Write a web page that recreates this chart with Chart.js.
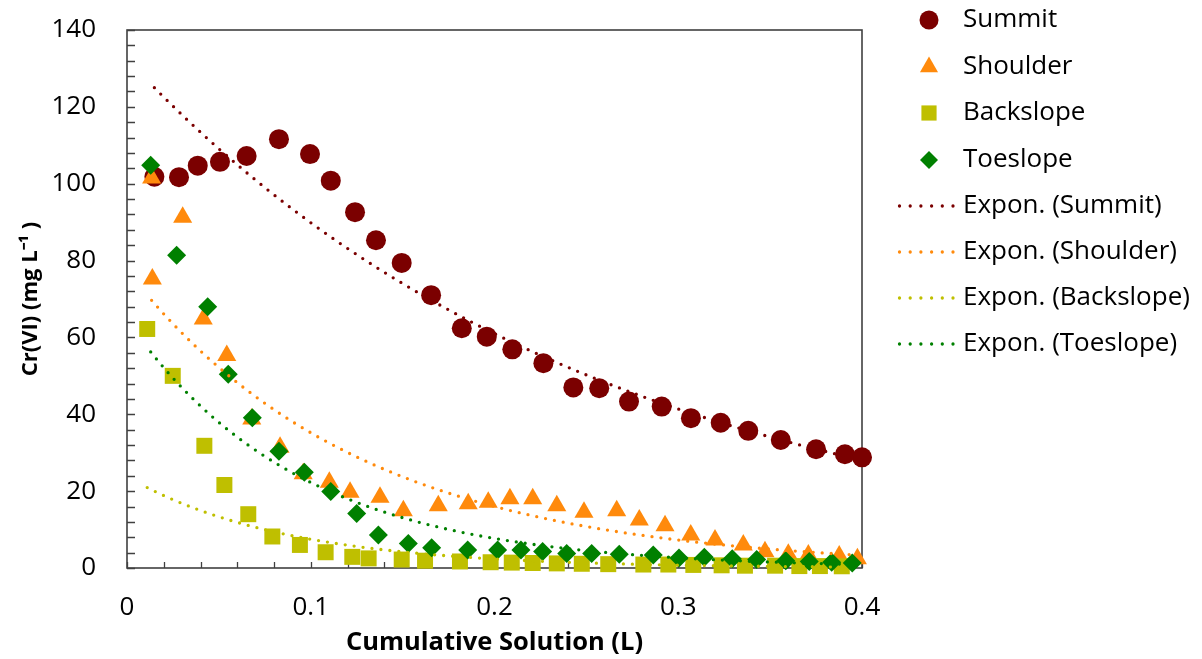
<!DOCTYPE html>
<html>
<head>
<meta charset="utf-8">
<script src="https://cdn.jsdelivr.net/npm/chart.js@4/dist/chart.umd.min.js"></script>
<style>
  html, body { margin: 0; padding: 0; background: #ffffff; }
  #wrap { width: 1202px; height: 659px; }
</style>
</head>
<body>
<div id="wrap"><canvas id="c" width="1202" height="659"></canvas></div>
<script>
// Cr(VI) concentration in leachate vs. cumulative solution volume, four landscape positions
const summitX = [0.0149,0.0283,0.0385,0.0506,0.0651,0.0827,0.0996,0.1109,0.1241,0.1355,0.1495,0.1655,0.1822,0.1958,0.2097,0.2266,0.2429,0.2570,0.2732,0.2910,0.3069,0.3231,0.3381,0.3558,0.3750,0.3907,0.4000];
const summitY = [101.8,101.7,104.7,105.7,107.2,111.6,107.7,100.8,92.6,85.3,79.4,71.0,62.4,60.2,56.9,53.3,47.0,46.8,43.3,42.0,39.0,37.8,35.7,33.3,30.9,29.6,28.8];

const shoulderX = [0.0134,0.0303,0.0138,0.0415,0.0543,0.0679,0.0833,0.0959,0.1101,0.1214,0.1377,0.1504,0.1694,0.1857,0.1966,0.2084,0.2208,0.2339,0.2487,0.2665,0.2788,0.2928,0.3068,0.3200,0.3354,0.3472,0.3599,0.3708,0.3876,0.3975];
const shoulderY = [101.5,91.3,75.2,64.8,55.3,38.8,31.4,24.5,22.3,19.7,18.4,14.9,16.2,16.7,17.1,18.0,18.0,16.2,14.5,14.9,12.5,11.0,8.6,7.3,6.0,4.2,3.6,3.4,3.1,2.4];

const backslopeX = [0.0110,0.0249,0.0421,0.0530,0.0660,0.0791,0.0941,0.1081,0.1226,0.1315,0.1495,0.1622,0.1812,0.1979,0.2094,0.2208,0.2339,0.2475,0.2619,0.2810,0.2946,0.3082,0.3236,0.3363,0.3527,0.3659,0.3771,0.3890];
const backslopeY = [62.2,50.0,31.8,21.6,14.0,8.2,6.0,4.1,2.9,2.5,2.2,1.9,1.7,1.5,1.4,1.3,1.2,1.1,1.0,0.9,0.9,0.8,0.7,0.6,0.6,0.5,0.5,0.45];

const toeslopeX = [0.0129,0.0270,0.0439,0.0551,0.0682,0.0827,0.0965,0.1109,0.1250,0.1368,0.1531,0.1658,0.1854,0.2017,0.2144,0.2262,0.2393,0.2529,0.2679,0.2864,0.3004,0.3142,0.3294,0.3427,0.3585,0.3713,0.3835,0.3947];
const toeslopeY = [104.8,81.4,68.0,50.4,39.1,30.4,24.9,19.9,14.2,8.6,6.4,5.3,4.7,4.7,4.7,4.3,3.8,3.8,3.6,3.4,2.6,2.8,2.4,2.2,1.9,1.7,1.5,1.3];

const seriesNames = ['Summit', 'Shoulder', 'Backslope', 'Toeslope'];
const seriesColors = ['#7b0000', '#ff8a0c', '#bfbf00', '#008000'];
const seriesShapes = ['circle', 'triangle', 'rect', 'rectRot'];
const seriesRadii = [10, 11, 11.3, 9.5];

const xTicks = [0, 0.1, 0.2, 0.3, 0.4];
const yTicks = [0, 20, 40, 60, 80, 100, 120, 140];
const xMinorStep = 0.02;
const yMinorStep = 4;

const FONT = '"Open Sans"';
Chart.defaults.font.family = FONT;
Chart.defaults.color = '#000000';

// Exponential least-squares fit (regression of ln y on x), as a spreadsheet trendline
function expFit(xs, ys) {
  const n = xs.length;
  let sx = 0, sl = 0, sxx = 0, sxl = 0;
  for (let i = 0; i < n; i++) {
    const l = Math.log(ys[i]);
    sx += xs[i]; sl += l; sxx += xs[i] * xs[i]; sxl += xs[i] * l;
  }
  const b = (n * sxl - sx * sl) / (n * sxx - sx * sx);
  const a = (sl - b * sx) / n;
  return { A: Math.exp(a), b: b };
}

function trendPoints(xs, ys) {
  const f = expFit(xs, ys);
  const lo = Math.min(...xs), hi = Math.max(...xs);
  const pts = [];
  const steps = 160;
  for (let i = 0; i <= steps; i++) {
    const x = lo + (hi - lo) * i / steps;
    pts.push({ x: x, y: f.A * Math.exp(f.b * x) });
  }
  return pts;
}

const pairs = (xs, ys) => xs.map((x, i) => ({ x: x, y: ys[i] }));
const allX = [summitX, shoulderX, backslopeX, toeslopeX];
const allY = [summitY, shoulderY, backslopeY, toeslopeY];

const datasets = [];
for (let s = 0; s < 4; s++) {
  datasets.push({
    label: seriesNames[s],
    data: pairs(allX[s], allY[s]),
    showLine: false,
    pointStyle: seriesShapes[s],
    pointRadius: seriesRadii[s],
    pointHoverRadius: seriesRadii[s],
    pointBorderWidth: 0,
    backgroundColor: seriesColors[s],
    borderColor: seriesColors[s],
    order: 10 - s,
    clip: false
  });
}
for (let s = 0; s < 4; s++) {
  datasets.push({
    label: 'Expon. (' + seriesNames[s] + ')',
    data: trendPoints(allX[s], allY[s]),
    showLine: true,
    pointRadius: 0,
    pointHoverRadius: 0,
    borderColor: seriesColors[s],
    borderWidth: 3.3,
    borderDash: [0, 9],
    borderCapStyle: 'round',
    tension: 0,
    fill: false,
    order: 4 - s,
    clip: false
  });
}

// Plot frame and inward minor tick marks
const frameAndTicks = {
  id: 'frameAndTicks',
  beforeDatasetsDraw(chart) {
    const { ctx, chartArea: a, scales: { x, y } } = chart;
    ctx.save();
    ctx.strokeStyle = '#404040';
    ctx.lineWidth = 1.6;
    ctx.strokeRect(a.left, a.top, a.right - a.left, a.bottom - a.top);
    ctx.lineWidth = 1.3;
    ctx.beginPath();
    for (let v = 0; v <= 140 + 1e-9; v += yMinorStep) {
      const py = Math.round(y.getPixelForValue(v)) + 0.5;
      ctx.moveTo(a.left, py);
      ctx.lineTo(a.left + 8, py);
    }
    for (let i = 0; i <= Math.round(0.4 / xMinorStep); i++) {
      const px = Math.round(x.getPixelForValue(i * xMinorStep)) + 0.5;
      ctx.moveTo(px, a.bottom);
      ctx.lineTo(px, a.bottom - 6);
    }
    ctx.stroke();
    ctx.restore();
  }
};

// Legend on the right: four marker entries, four dotted trendline entries
const legendRows = [20, 67, 113, 160, 206, 252, 298, 344];
const sideLegend = {
  id: 'sideLegend',
  afterDraw(chart) {
    const ctx = chart.ctx;
    ctx.save();
    ctx.font = '26px ' + FONT;
    ctx.textBaseline = 'middle';
    ctx.textAlign = 'left';
    for (let s = 0; s < 4; s++) {
      const yy = legendRows[s];
      ctx.fillStyle = seriesColors[s];
      Chart.helpers.drawPoint(ctx, { pointStyle: seriesShapes[s], radius: seriesRadii[s] * 0.95, rotation: 0, borderWidth: 0 }, 929, yy);
      ctx.fillStyle = '#000000';
      ctx.fillText(seriesNames[s], 963, yy);
    }
    for (let s = 0; s < 4; s++) {
      const yy = legendRows[4 + s];
      ctx.strokeStyle = seriesColors[s];
      ctx.lineWidth = 3.3;
      ctx.lineCap = 'round';
      ctx.setLineDash([0, 10.7]);
      ctx.beginPath();
      ctx.moveTo(899.5, yy);
      ctx.lineTo(956, yy);
      ctx.stroke();
      ctx.setLineDash([]);
      ctx.fillStyle = '#000000';
      ctx.fillText('Expon. (' + seriesNames[s] + ')', 963, yy);
    }
    ctx.restore();
  }
};

new Chart(document.getElementById('c'), {
  type: 'scatter',
  data: { datasets: datasets },
  options: {
    responsive: false,
    animation: false,
    devicePixelRatio: 1,
    layout: { padding: { left: 0, right: 340, top: 30, bottom: 0 } },
    plugins: { legend: { display: false }, tooltip: { enabled: false } },
    scales: {
      x: {
        type: 'linear',
        min: 0, max: 0.4,
        afterFit(scale) { scale.height = 91; scale.paddingLeft = 0; scale.paddingRight = 0; },
        afterBuildTicks(scale) { scale.ticks = xTicks.map(v => ({ value: v })); },
        grid: { display: false, drawTicks: false },
        border: { display: false },
        ticks: { font: { size: 26 }, color: '#000000', padding: 24, maxRotation: 0,
                 callback: v => String(v) },
        title: { display: true, text: 'Cumulative Solution (L)', color: '#000000',
                 font: { size: 25.5, weight: 'bold', lineHeight: 1.2 }, padding: { top: 0, bottom: 1 } }
      },
      y: {
        type: 'linear',
        min: 0, max: 140,
        afterFit(scale) { scale.width = 127; scale.paddingTop = 0; scale.paddingBottom = 0; },
        afterBuildTicks(scale) { scale.ticks = yTicks.map(v => ({ value: v })); },
        grid: { display: false, drawTicks: false },
        border: { display: false },
        ticks: { font: { size: 26 }, color: '#000000', padding: 31 },
        title: { display: true, text: 'Cr(VI) (mg L\u207B\u00B9 )', color: '#000000',
                 font: { size: 22, weight: 'bold', lineHeight: 1.2 }, padding: { top: 18, bottom: 0 } }
      }
    }
  },
  plugins: [frameAndTicks, sideLegend]
});
</script>
</body>
</html>
